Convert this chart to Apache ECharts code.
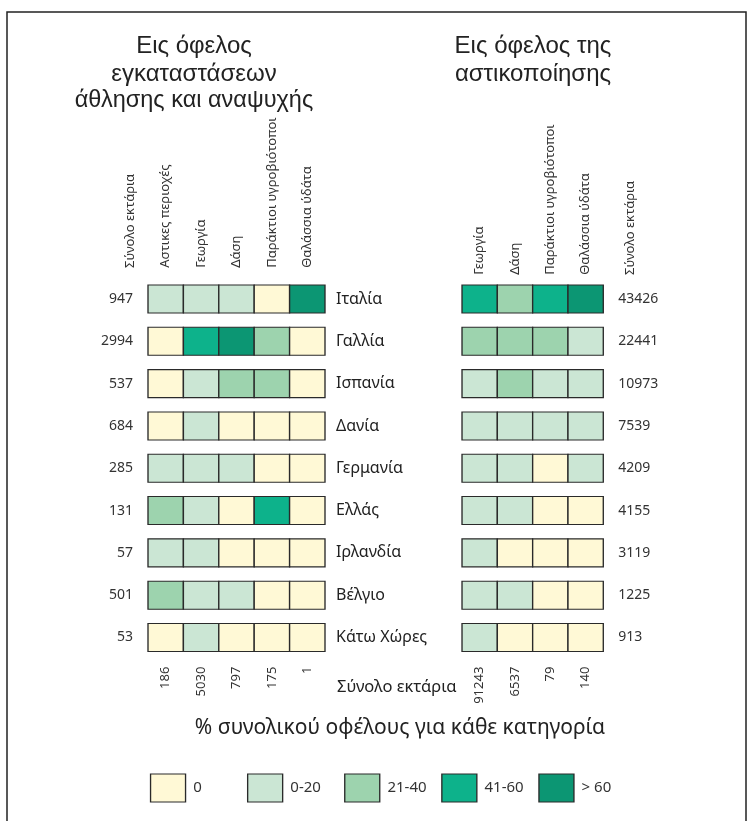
<!DOCTYPE html>
<html><head><meta charset="utf-8">
<script src="https://cdn.jsdelivr.net/npm/echarts@6/dist/echarts.min.js"></script>
<style>html,body{margin:0;padding:0;background:#fff}#c{width:750px;height:821px}</style>
</head><body><div id="c"></div>
<script>
const countries = ['Ιταλία','Γαλλία','Ισπανία','Δανία','Γερμανία','Ελλάς','Ιρλανδία','Βέλγιο','Κάτω Χώρες'];
const sportCols = ['Αστικες περιοχές','Γεωργία','Δάση','Παράκτιοι υγροβιότοποι','Θαλάσσια ύδάτα'];
const urbanCols = ['Γεωργία','Δάση','Παράκτιοι υγροβιότοποι','Θαλάσσια ύδάτα'];
// level index: 0 -> "0", 1 -> "0-20", 2 -> "21-40", 3 -> "41-60", 4 -> "> 60"
const sportLevels = [
  [1,1,1,0,4],
  [0,3,4,2,0],
  [0,1,2,2,0],
  [0,1,0,0,0],
  [1,1,1,0,0],
  [2,1,0,3,0],
  [1,1,0,0,0],
  [2,1,1,0,0],
  [0,1,0,0,0]
];
const urbanLevels = [
  [3,2,3,4],
  [2,2,2,1],
  [1,2,1,1],
  [1,1,1,1],
  [1,1,0,1],
  [1,1,0,0],
  [1,0,0,0],
  [1,1,0,0],
  [1,0,0,0]
];
const sportRowTotals = ['947','2994','537','684','285','131','57','501','53'];
const urbanRowTotals = ['43426','22441','10973','7539','4209','4155','3119','1225','913'];
const sportColTotals = ['186','5030','797','175','1'];
const urbanColTotals = ['91243','6537','79','140'];
const legendLabels = ['0','0-20','21-40','41-60','> 60'];
const totalLabel = 'Σύνολο εκτάρια';

const palette = ['#fff9d6','#cbe6d4','#9dd3ae','#0db28b','#0c9673'];
const FONT = 'Noto Sans';
const TXT = '#333';

function cells(levels){
  const out = [];
  levels.forEach((row, r) => row.forEach((v, c) => out.push([c, r, v])));
  return out;
}

const gTop = 277.85, gH = 380.8;
const chart = echarts.init(document.getElementById('c'));
const hidden = {show:false};
function catX(grid, data, pos, margin, rot){
  return {gridIndex:grid, type:'category', position:pos, data:data,
    axisLine:hidden, axisTick:hidden, splitLine:hidden,
    axisLabel:{rotate:rot, margin:margin, fontSize:13, color:TXT, fontFamily:FONT, interval:0}};
}
function catY(grid, data, pos, margin, extra){
  return {gridIndex:grid, type:'category', position:pos, inverse:true, data:data,
    axisLine:hidden, axisTick:hidden, splitLine:hidden,
    axisLabel:Object.assign({margin:margin, fontSize:14, color:TXT, fontFamily:FONT, interval:0}, extra)};
}
const titleFont = '"Liberation Sans"';
const option = {
  animation:false,
  backgroundColor:'#fff',
  grid:[
    {left:148, width:177, top:gTop, height:gH},
    {left:462, width:141.3, top:gTop, height:gH},
    {left:119.5, width:485.5, top:774, height:28}
  ],
  xAxis:[
    catX(0, sportCols, 'top', 10, -90),
    catX(0, sportColTotals, 'bottom', 8, 90),
    catX(1, urbanCols, 'top', 3, -90),
    catX(1, urbanColTotals, 'bottom', 8, 90),
    {gridIndex:2, type:'category', data:legendLabels, show:false}
  ],
  yAxis:[
    catY(0, sportRowTotals, 'left', 15, {padding:[0,0,7,0]}),
    catY(0, countries, 'right', 11, {padding:[9,0,0,0], fontSize:16, color:'#222'}),
    catY(1, urbanRowTotals, 'right', 15, {padding:[0,0,10,0]}),
    {gridIndex:2, type:'category', data:['legend'], show:false}
  ],
  series:[
    {type:'scatter', xAxisIndex:0, yAxisIndex:0, symbol:'rect', symbolSize:[35.4,28],
     data:cells(sportLevels),
     itemStyle:{color:p=>palette[p.value[2]], borderColor:'#2a2a2a', borderWidth:1.2, opacity:1}},
    {type:'scatter', xAxisIndex:2, yAxisIndex:2, symbol:'rect', symbolSize:[35.3,28],
     data:cells(urbanLevels),
     itemStyle:{color:p=>palette[p.value[2]], borderColor:'#2a2a2a', borderWidth:1.2, opacity:1}},
    {type:'scatter', xAxisIndex:4, yAxisIndex:3, symbol:'rect', symbolSize:[35,28],
     data:legendLabels.map((l,i)=>[i,0,i]),
     itemStyle:{color:p=>palette[p.value[2]], borderColor:'#2a2a2a', borderWidth:1.2, opacity:1},
     label:{show:true, position:'right', distance:7, formatter:p=>legendLabels[p.value[0]],
       fontSize:15, color:TXT, fontFamily:FONT}}
  ],
  graphic:[
    {type:'rect', shape:{x:7, y:12, width:739, height:840}, style:{fill:'none', stroke:'#222', lineWidth:1.5}, silent:true},
    {type:'text', x:194, y:46, style:{text:'Εις όφελος', align:'center', verticalAlign:'middle',
      font:'24px ' + titleFont, fill:'#222'}},
    {type:'text', x:194, y:74, style:{text:'εγκαταστάσεων', align:'center', verticalAlign:'middle',
      font:'24px ' + titleFont, fill:'#222'}},
    {type:'text', x:194, y:101, style:{text:'άθλησης και αναψυχής', align:'center', verticalAlign:'middle',
      font:'23.5px ' + titleFont, fill:'#222'}},
    {type:'text', x:533, y:46, style:{text:'Εις όφελος της', align:'center', verticalAlign:'middle',
      font:'24px ' + titleFont, fill:'#222'}},
    {type:'text', x:533, y:74, style:{text:'αστικοποίησης', align:'center', verticalAlign:'middle',
      font:'24px ' + titleFont, fill:'#222'}},
    {type:'text', x:130, y:268, rotation:Math.PI/2, style:{text:totalLabel, align:'left', verticalAlign:'middle',
      font:'13px "Noto Sans"', fill:TXT}},
    {type:'text', x:630, y:275, rotation:Math.PI/2, style:{text:totalLabel, align:'left', verticalAlign:'middle',
      font:'13px "Noto Sans"', fill:TXT}},
    {type:'text', x:337, y:687, style:{text:totalLabel, align:'left', verticalAlign:'middle',
      font:'16.5px "Noto Sans"', fill:'#222'}},
    {type:'text', x:400, y:728, style:{text:'% συνολικού οφέλους για κάθε κατηγορία', align:'center', verticalAlign:'middle',
      font:'21px "Noto Sans"', fill:'#222'}}
  ]
};
chart.setOption(option);
</script></body></html>
